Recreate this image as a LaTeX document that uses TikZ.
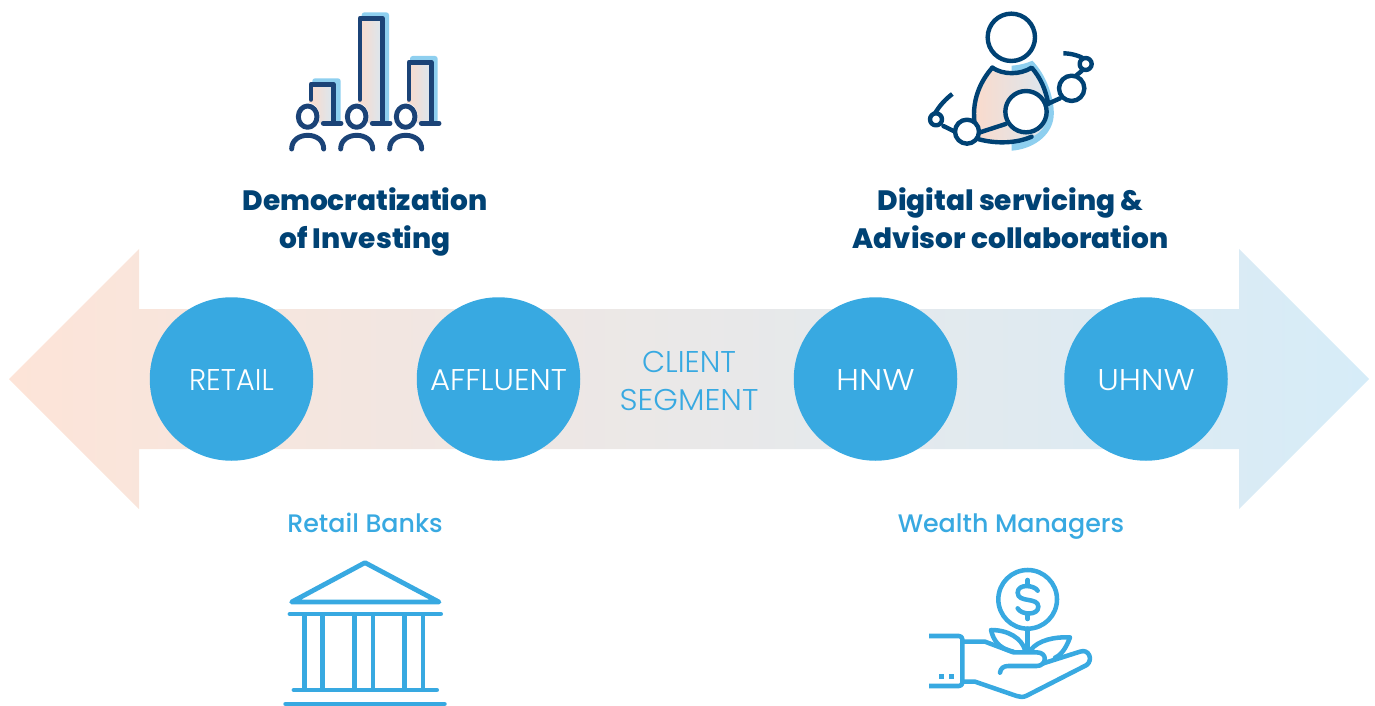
\documentclass[tikz,border=0pt]{standalone}
\usepackage{fontspec}
\usepackage{graphicx}
\setmainfont{Poppins}
\newfontfamily\lightf{Poppins Light}
\newfontfamily\boldf{Poppins ExtraBold}
\newfontfamily\medf{Poppins Medium}
\definecolor{cblue}{HTML}{38A9E1}
\definecolor{navy}{HTML}{1B4377}
\definecolor{navyb}{HTML}{004274}
\definecolor{lblue}{HTML}{8ECFEF}
\definecolor{peach}{HTML}{FDE4D8}
\definecolor{skyb}{HTML}{D6ECF8}
\definecolor{gl}{HTML}{FCDACA}
\definecolor{gr}{HTML}{DAE7F0}
\newcommand{\cirtxt}[2]{\raisebox{-8.6pt}[0pt][0pt]{\scalebox{#1}[1]{#2}}}
\tikzset{
  circ/.style={circle,fill=cblue,minimum size=163.5*0.75pt,inner sep=0pt,text=white,font=\lightf\fontsize{22.5}{26}\selectfont},
  head/.style={text=navyb,font=\boldf\fontsize{21}{28.7}\selectfont,align=center},
  sub/.style={text=cblue,font=\medf\fontsize{19}{24}\selectfont},
  seg/.style={text=cblue,font=\lightf\fontsize{22.5}{28}\selectfont,align=center},
  zoomed/.style={x=0.25pt,y=-0.25pt},
  dk/.style={draw=navy,line width=3.7pt,line cap=round,line join=round},
  dkb/.style={draw=navyb,line width=3.3pt,line cap=round,line join=round},
  lb/.style={draw=cblue,line width=3.6pt,line cap=round,line join=round},
  lbt/.style={draw=cblue,line width=3.4pt,line cap=round,line join=round},
  gradf/.style={left color=gl,right color=gr,draw=none},
}
\begin{document}
\begin{tikzpicture}[x=0.75pt,y=-0.75pt]
\useasboundingbox (0,0) rectangle (1375,706);
% main arrow
\shade[left color=peach,right color=skyb] (9,379) -- (139,249) -- (139,309) -- (1239,309) -- (1239,249) -- (1369,379) -- (1239,509) -- (1239,449) -- (139,449) -- (139,509) -- cycle;
\node[circ] (retail) at (231.5,379) {\cirtxt{0.97}{RETAIL}};
\node[circ] (affluent) at (498.5,379) {\cirtxt{1.03}{AFFLUENT}};
\node[circ] (hnw) at (875.5,379) {\cirtxt{1.13}{HNW}};
\node[circ] (uhnw) at (1146,379) {\cirtxt{1.09}{UHNW}};
\node[seg] (segment) at (689,384) {\strut CLIENT\\\strut\scalebox{1.05}[1]{SEGMENT}};
\node[head] (demo) at (365,221.5) {\strut Democratization\\\strut of Investing};
\node[head] (digital) at (1010.5,221.5) {\strut Digital servicing \&\\\strut Advisor collaboration};
\node[sub] (banks) at (365,526) {\strut Retail Banks};
\node[sub] (wealth) at (1011,526) {\strut Wealth Managers};
% chart icon
\begin{scope}[shift={(270,0)},zoomed]
  \fill[lblue,rounded corners=2pt] (127,235) rectangle (212,368);
  \fill[lblue,rounded corners=2pt] (275,37) rectangle (357,368);
  \fill[lblue,rounded corners=2pt] (420,168) rectangle (503,368);
  \shade[gradf] (117,258) rectangle (190,368);
  \shade[gradf] (264,60) rectangle (337,368);
  \shade[gradf] (411,192) rectangle (484,368);
  \draw[dk] (123,298) -- (123,253) -- (190,253) -- (190,370);
  \draw[dk] (160,370) -- (213,370);
  \draw[dk] (270,298) -- (270,55) -- (337,55) -- (337,370);
  \draw[dk] (307,370) -- (360,370);
  \draw[dk] (417,298) -- (417,187) -- (484,187) -- (484,370);
  \draw[dk] (454,370) -- (507,370);
  \foreach \cx in {113,260,407}{
    \fill[white] (\cx,350) ellipse [x radius=36,y radius=42];
    \draw[dk] (\cx,350) ellipse [x radius=28,y radius=32];
    \draw[dk] (\cx-48,447) .. controls (\cx-48,420) and (\cx-25,406) .. (\cx,406) .. controls (\cx+25,406) and (\cx+48,420) .. (\cx+48,447);
  }
\end{scope}
% advisor icon
\begin{scope}[shift={(915,0)},zoomed]
  \fill[lblue] (290,197) .. controls (315,195) and (335,190) .. (352,182) .. controls (395,225) and (420,300) .. (416,350) .. controls (410,410) and (350,448) .. (290,452) -- (290,400) -- cycle;
  \shade[gradf] (232,203) .. controls (265,225) and (315,225) .. (350,203) .. controls (378,235) and (395,270) .. (400,312) .. controls (405,360) and (385,400) .. (345,412) .. controls (290,435) and (225,430) .. (190,415) .. controls (165,340) and (190,250) .. (232,203) -- cycle;
  \draw[dkb] (232,203) .. controls (265,225) and (315,225) .. (350,203) .. controls (378,235) and (392,270) .. (400,312);
  \draw[dkb] (232,203) .. controls (195,245) and (172,300) .. (178,362);
  \draw[dkb] (192,418) .. controls (245,432) and (305,430) .. (350,410);
  \draw[dkb] (192,398) -- (272,372);
  \draw[dkb] (402,310) -- (435,295);
  \draw[dkb] (85,378) -- (118,394);
  \draw[dkb,line cap=butt] (60,340) .. controls (75,315) and (92,297) .. (112,282);
  \draw[dkb,line cap=butt] (445,160) .. controls (470,160) and (495,168) .. (510,178);
  \draw[dkb] (482,228) -- (501,212);
  \draw[dkb,fill=white] (289,112) circle (71);
  \draw[dkb,fill=white] (333,335) circle (62);
  \draw[dkb,fill=white] (156,395) circle (36);
  \draw[dkb,fill=white] (470,265) circle (38);
  \draw[dkb,fill=white] (512,192) circle (18);
  \draw[dkb,fill=white] (63,358) circle (18);
\end{scope}
% bank icon
\begin{scope}[shift={(270,550)},zoomed]
  \draw[lb] (285,38) -- (65,156) -- (507,156) -- cycle;
  \draw[lb] (60,192) -- (512,192);
  \foreach \cx in {104,158,254,309,404,459}{\draw[lb,line cap=butt] (\cx,192) -- (\cx,420);}
  \draw[lb] (72,420) -- (500,420);
  \draw[lb] (47,462) -- (523,462);
\end{scope}
% hand icon
\begin{scope}[shift={(915,550)},zoomed]
  \draw[lbt] (338,148) circle (88);
  \draw[lbt] (338,90) -- (338,106);
  \draw[lbt] (338,190) -- (338,207);
  \draw[lbt] (368,122) .. controls (358,105) and (308,100) .. (308,128) .. controls (308,160) and (370,140) .. (370,170) .. controls (370,198) and (318,195) .. (308,175);
  \draw[lbt] (338,236) -- (338,300);
  \draw[lbt] (330,300) .. controls (320,265) and (280,240) .. (228,240) .. controls (235,270) and (250,295) .. (295,305);
  \draw[lbt] (347,300) .. controls (370,270) and (420,260) .. (465,262) .. controls (455,290) and (440,315) .. (420,323);
  \draw[lbt,line cap=butt] (42,258) -- (132,258) .. controls (138,258) and (142,262) .. (142,268) -- (142,398) .. controls (142,404) and (138,408) .. (132,408) -- (42,408);
  \fill[cblue] (72,372) rectangle (87,386);
  \fill[cblue] (102,372) rectangle (117,386);
  \draw[lbt] (145,275) -- (210,275) -- (295,307) -- (365,307) .. controls (400,307) and (395,348) .. (365,348) -- (280,348) .. controls (265,348) and (257,355) .. (255,368);
  \draw[lbt] (145,395) -- (180,395) -- (305,438) .. controls (315,442) and (325,442) .. (335,437) -- (515,345) .. controls (535,330) and (522,295) .. (495,305) -- (385,340);
\end{scope}
\end{tikzpicture}
\end{document}
